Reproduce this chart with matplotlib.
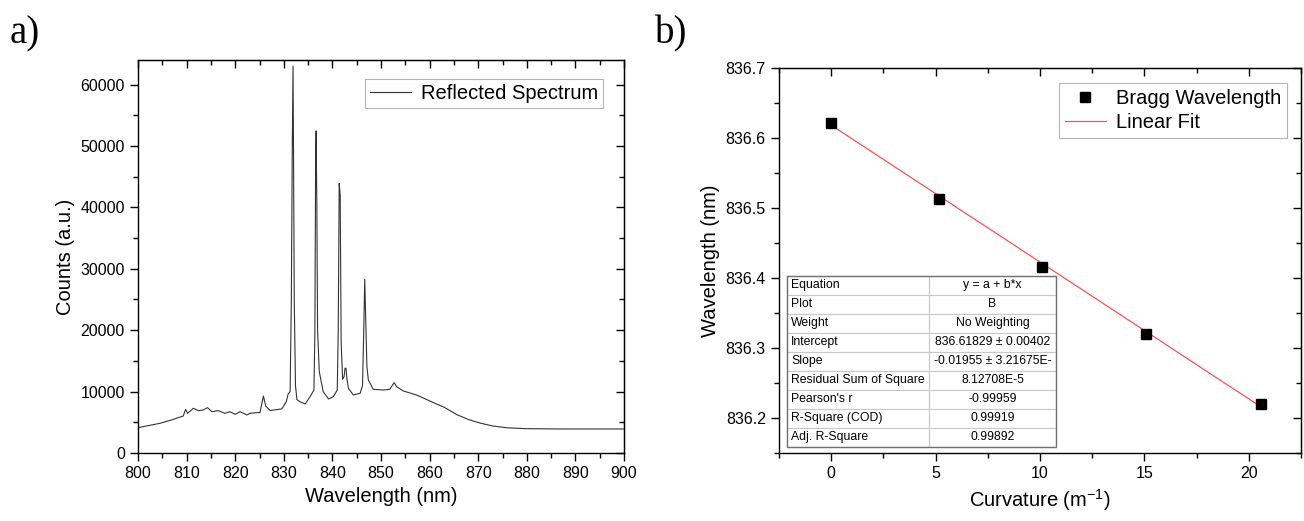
import matplotlib.pyplot as plt
import numpy as np
from matplotlib.ticker import MultipleLocator
from matplotlib.patches import Rectangle

plt.rcParams['font.family'] = ['Liberation Sans', 'DejaVu Sans']
plt.rcParams['mathtext.fontset'] = 'custom'
plt.rcParams['mathtext.rm'] = 'Liberation Sans'

# a) reflected spectrum
spec_wl = [800.0, 804.5, 807.3, 809.3, 809.8, 810.2, 811.4, 812.4, 813.4, 814.3,
           815.2, 816.5, 817.9, 818.9, 820.0, 821.0, 822.4, 823.0, 824.4, 825.1,
           825.8, 826.3, 827.2, 829.6, 830.5, 830.9, 831.3, 831.55, 831.75, 831.9,
           832.0, 832.15, 832.4, 832.7, 833.3, 834.4, 835.4, 836.2, 836.4, 836.55,
           836.65, 836.8, 836.95, 837.3, 838.1, 839.2, 840.2, 841.0, 841.2, 841.4,
           841.6, 841.8, 842.1, 842.4, 842.6, 842.8, 843.0, 843.3, 844.3, 845.7,
           846.2, 846.45, 846.65, 846.85, 847.1, 847.4, 848.4, 850.5, 851.8, 852.7,
           853.2, 854.6, 857.3, 860.8, 863.0, 865.6, 868.0, 870.5, 873.0, 876.0,
           880.0, 887.5, 900.0]
spec_counts = [4130, 4830, 5480, 6020, 7110, 6460, 7280, 6900, 7000, 7380,
               6730, 6900, 6460, 6730, 6300, 6730, 6190, 6460, 6570, 6570,
               9280, 7630, 6920, 7190, 8360, 9610, 10000, 25000, 50300, 63000,
               49000, 25000, 11000, 8700, 8360, 7980, 9170, 10260, 20000, 48000,
               52450, 40000, 20000, 13250, 10000, 8800, 9170, 10260, 20000, 43900,
               42000, 18000, 12000, 12440, 13800, 13790, 12000, 10530, 9450, 9720,
               11000, 20000, 28300, 22000, 14000, 11900, 10370, 10260, 10370, 11460,
               10800, 10100, 9450, 8200, 7450, 6250, 5450, 4850, 4400, 4100,
               3960, 3910, 3910]

# b) Bragg wavelength vs curvature
curvature = [0.0, 5.17, 10.08, 15.1, 20.6]
bragg_wl = [836.622, 836.513, 836.416, 836.320, 836.220]
fit_intercept = 836.61829
fit_slope = -0.01955

table_labels = ["Equation", "Plot", "Weight", "Intercept", "Slope",
                "Residual Sum of Square", "Pearson's r", "R-Square (COD)",
                "Adj. R-Square"]
table_values = ["y = a + b*x", "B", "No Weighting", "836.61829 \u00b1 0.00402",
                "-0.01955 \u00b1 3.21675E-", "8.12708E-5", "-0.99959", "0.99919",
                "0.99892"]


def origin_ticks(ax, xmaj, xmin, ymaj, ymin):
    ax.xaxis.set_major_locator(MultipleLocator(xmaj))
    ax.xaxis.set_minor_locator(MultipleLocator(xmin))
    ax.yaxis.set_major_locator(MultipleLocator(ymaj))
    ax.yaxis.set_minor_locator(MultipleLocator(ymin))
    ax.tick_params(which='both', direction='out', labelsize=11.5, width=1.0)
    ax.tick_params(which='major', length=6)
    ax.tick_params(which='minor', length=3.5)
    top = ax.secondary_xaxis('top')
    top.xaxis.set_major_locator(MultipleLocator(xmaj))
    top.xaxis.set_minor_locator(MultipleLocator(xmin))
    top.tick_params(which='both', direction='in', labeltop=False, width=1.0)
    top.tick_params(which='major', length=6)
    top.tick_params(which='minor', length=3.5)
    right = ax.secondary_yaxis('right')
    right.yaxis.set_major_locator(MultipleLocator(ymaj))
    right.yaxis.set_minor_locator(MultipleLocator(ymin))
    right.tick_params(which='both', direction='in', labelright=False, width=1.0)
    right.tick_params(which='major', length=6)
    right.tick_params(which='minor', length=3.5)
    for s in ax.spines.values():
        s.set_linewidth(1.0)


fig = plt.figure(figsize=(13.04, 5.21), dpi=100)

# ---- panel a
ax1 = fig.add_axes([138 / 1304, 68 / 521, 486 / 1304, 393 / 521])
ax1.plot(spec_wl, spec_counts, color='#333333', lw=0.8, label='Reflected Spectrum')
ax1.set_xlim(800, 900)
ax1.set_ylim(0, 64000)
origin_ticks(ax1, 10, 5, 10000, 5000)
ax1.set_xlabel('Wavelength (nm)', fontsize=14.5)
ax1.set_ylabel('Counts (a.u.)', fontsize=14.5)
leg1 = ax1.legend(loc='upper right', bbox_to_anchor=(0.957, 0.952), borderaxespad=0,
                  fancybox=False, edgecolor='#a0a0a0', fontsize=14.5,
                  handlelength=2.0, handletextpad=0.5, borderpad=0.25)
leg1.get_frame().set_linewidth(0.8)

# ---- panel b
ax2 = fig.add_axes([779 / 1304, 68 / 521, 522 / 1304, 385 / 521])
ax2.plot(curvature, bragg_wl, 's', color='black', ms=6.5, label='Bragg Wavelength', zorder=3)
fit_x = np.array([curvature[0], curvature[-1]])
ax2.plot(fit_x, fit_intercept + fit_slope * fit_x, color='#ff5050', lw=0.9,
         label='Linear Fit', zorder=2)
ax2.set_xlim(-2.5, 22.5)
ax2.set_ylim(836.15, 836.7)
origin_ticks(ax2, 5, 2.5, 0.1, 0.05)
ax2.yaxis.set_major_formatter(plt.FormatStrFormatter('%.1f'))
ax2.set_xlabel('Curvature (m$^{-1}$)', fontsize=14.5)
ax2.set_ylabel('Wavelength (nm)', fontsize=14.5)
leg2 = ax2.legend(loc='upper right', bbox_to_anchor=(0.973, 0.961), borderaxespad=0,
                  fancybox=False, edgecolor='#a0a0a0', fontsize=14.5,
                  handlelength=2.0, handletextpad=0.5, labelspacing=0.25, borderpad=0.3)
leg2.get_frame().set_linewidth(0.8)

# fit result table
tb_left, tb_bottom, tb_h = 0.015, 0.016, 0.444
w_lab, w_val = 0.272, 0.244
t1 = ax2.table(cellText=[[s] for s in table_labels], cellLoc='left',
               bbox=[tb_left, tb_bottom, w_lab, tb_h], zorder=4)
t2 = ax2.table(cellText=[[s] for s in table_values], cellLoc='center',
               bbox=[tb_left + w_lab, tb_bottom, w_val, tb_h], zorder=4)
for t in (t1, t2):
    t.auto_set_font_size(False)
    t.set_fontsize(8.8)
    for cell in t.get_celld().values():
        cell.set_edgecolor('#c8c8c8')
        cell.set_linewidth(0.8)
        cell.PAD = 0.03
ax2.add_patch(Rectangle((tb_left, tb_bottom), w_lab + w_val, tb_h, transform=ax2.transAxes,
                        fill=False, edgecolor='#707070', lw=1.0, zorder=5))

fig.text(10 / 1304, 0.9175, 'a)', fontsize=28, family='Liberation Serif', va='baseline')
fig.text(655 / 1304, 0.9175, 'b)', fontsize=28, family='Liberation Serif', va='baseline')

fig.savefig('out.png', dpi=100)
